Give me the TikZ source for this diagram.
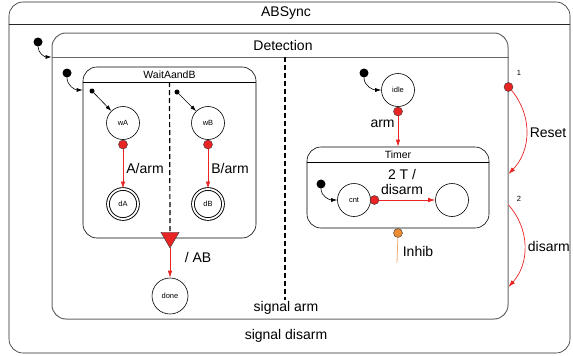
\documentclass[tikz,border=0pt]{standalone}
\usepackage{fontspec}
\setmainfont{Liberation Sans}
\usetikzlibrary{arrows.meta, positioning, shapes.geometric}
\definecolor{tred}{RGB}{232,36,36}
\definecolor{torange}{RGB}{236,140,52}
\tikzset{
  sbox/.style={draw=black!85, rounded corners=14pt, inner sep=0pt, line width=0.6pt},
  sttl/.style={font=\fontsize{14}{16}\selectfont, inner sep=0pt},
  sttlsm/.style={font=\fontsize{10.5}{12}\selectfont, inner sep=0pt},
  st/.style={circle, draw, line width=0.6pt, minimum size=33pt, inner sep=0pt,
             font=\fontsize{7.5}{8}\selectfont},
  stfin/.style={st, minimum size=30pt, line width=0.9pt, double, double distance=1.8pt},
  init/.style={circle, fill=black, minimum size=9pt, inner sep=0pt},
  initsm/.style={circle, fill=black, minimum size=5pt, inner sep=0pt},
  rdot/.style={circle, fill=tred, draw=black!80, line width=0.4pt,
               minimum size=9pt, inner sep=0pt},
  odot/.style={rdot, fill=torange},
  iarr/.style={-{Latex[length=6pt, width=4pt]}, line width=0.6pt},
  tarr/.style={-{Latex[length=7pt, width=4.5pt]}, draw=tred, line width=0.7pt},
  tlbl/.style={font=\fontsize{14}{15}\selectfont, inner sep=1pt, align=center},
}
\begin{document}
\begin{tikzpicture}[x=1pt, y=1pt]
\useasboundingbox (0,0) rectangle (573,-356);
% ---- top level ----
\node[sbox, minimum width=561pt, minimum height=351pt] (absync) at (289.5,-177.5) {};
\draw[black!85, line width=0.6pt] (absync.west |- 0,-24) -- (absync.east |- 0,-24);
\node[sttl] (absyncname) at (286,-13) {ABSync};
\node[init] (i0) at (38,-42) {};
% ---- Detection ----
\node[sbox, draw=black!60, line width=1pt, minimum width=456pt, minimum height=286pt]
  (detect) at (280,-176) {};
\draw[black!60, line width=1pt] (detect.west |- 0,-57) -- (detect.east |- 0,-57);
\node[sttl] (detectname) at (283,-45) {Detection};
\draw[iarr] (i0) to[out=-90, in=180] (detect.west |- 0,-57);
\coordinate (sepT) at (285,-57);
\coordinate (sepB) at (285,-300);
\draw[dashed, line width=1.2pt, dash pattern=on 5pt off 3pt] (sepT) -- (sepB);
\node[tlbl] (sigarm) at (286,-308) {signal arm};
\node[tlbl] (sigdisarm) at (286,-336) {signal disarm};
% ---- WaitAandB ----
\node[sbox, draw=black, minimum width=173pt, minimum height=171pt]
  (wait) at (169.5,-152.5) {};
\draw[line width=0.6pt] (wait.west |- 0,-82) -- (wait.east |- 0,-82);
\node[sttlsm] (waitname) at (169.5,-75) {WaitAandB};
\node[init] (i1) at (67,-73) {};
\draw[iarr] (i1) to[out=-90, in=180] (wait.west |- 0,-90);
\node[regular polygon, regular polygon sides=3, shape border rotate=180,
      fill=tred, draw=black!80, line width=0.4pt, minimum size=21pt, inner sep=0pt]
  (join) at (170,-237.5) {};
\draw[dashed, line width=1.2pt, dash pattern=on 5pt off 3pt] (wait.north |- 0,-82) -- (join.north);
% left region
\node[st] (wA) at (123,-123) {wA};
\node[initsm] (iA) at (92,-91) {};
\draw[iarr] (iA) -- (wA);
\node[rdot, anchor=north] (pA) at (wA.south) {};
\node[stfin] (dA) at (123,-204) {dA};
\draw[tarr] (pA) -- node[tlbl, right=2pt] {A/arm} (dA);
% right region
\node[st] (wB) at (208,-123) {wB};
\node[initsm] (iB) at (177,-92) {};
\draw[iarr] (iB) -- (wB);
\node[rdot, anchor=north] (pB) at (wB.south) {};
\node[stfin] (dB) at (208,-204) {dB};
\draw[tarr] (pB) -- node[tlbl, right=2pt] {B/arm} (dB);
% join
\node[st, minimum size=36pt] (done) at (170,-296) {done};
\draw[tarr] (join.south) -- (done);
\node[tlbl] (ablbl) at (198,-257) {/ AB};
% ---- right region ----
\node[st] (idle) at (398,-90) {idle};
\node[init] (i2) at (364,-73) {};
\draw[iarr] (i2) to[out=-90, in=180] (idle);
\node[rdot, anchor=north] (pidle) at (idle.south) {};
% ---- Timer ----
\node[sbox, draw=black, minimum width=182pt, minimum height=81pt]
  (timer) at (398,-187.5) {};
\draw[line width=0.6pt] (timer.west |- 0,-162) -- (timer.east |- 0,-162);
\node[sttlsm] (timername) at (398,-154.5) {Timer};
\draw[tarr] (pidle) -- node[tlbl, left=2pt, pos=0.25] {arm} (timer.north);
\node[st] (cnt) at (354,-200) {cnt};
\node[init] (i3) at (321,-184) {};
\draw[iarr] (i3) to[out=-90, in=180] (cnt);
\node[rdot, anchor=west] (pcnt) at ([xshift=-1pt]cnt.east) {};
\node[st] (tout) at (452,-200) {};
\draw[tarr] (pcnt) -- (tout);
\node[tlbl] (tlabel) at (402,-182) {2 T /\\disarm};
\node[odot, anchor=north] (pinh) at (timer.south) {};
\coordinate (inhend) at (397,-263);
\draw[torange!70, line width=0.8pt] (pinh) -- (inhend);
\node[tlbl] (inhlbl) at (418,-251) {Inhib};
% ---- transitions on Detection ----
\node[rdot] (preset) at (detect.east |- 0,-87) {};
\node[font=\fontsize{7.5}{8}\selectfont] (n1) at (519,-73) {1};
\coordinate (reset2) at (detect.east |- 0,-174);
\draw[tarr] (preset) to[bend left=42] node[tlbl, right=2pt] {Reset} (reset2);
\coordinate (dis1) at (detect.east |- 0,-205);
\coordinate (dis2) at (detect.east |- 0,-287);
\node[font=\fontsize{7.5}{8}\selectfont] (n2) at (519,-199) {2};
\draw[tarr] (dis1) to[bend left=42] node[tlbl, right=2pt] {disarm} (dis2);
\end{tikzpicture}
\end{document}
